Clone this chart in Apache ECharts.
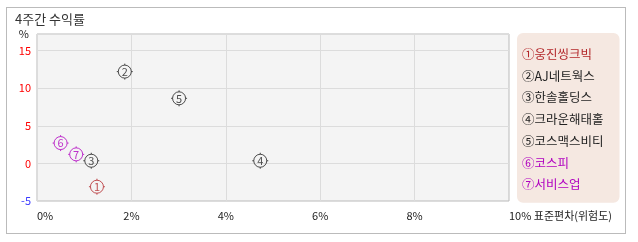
<!DOCTYPE html>
<html><head><meta charset="utf-8">
<script src="https://cdn.jsdelivr.net/npm/echarts@6/dist/echarts.min.js"></script>
<style>
html,body{margin:0;padding:0;background:#fff;}
#frame{position:absolute;left:6px;top:7px;width:620px;height:227px;border:1px solid #bbb;box-sizing:border-box;}
#c{position:absolute;left:0;top:0;width:638px;height:242px;}
</style></head>
<body><div id="frame"></div><div id="c"></div>
<script>
const marks = ['①','②','③','④','⑤','⑥','⑦'];
const names = ['웅진씽크빅','AJ네트웍스','한솔홀딩스','크라운해태홀','코스맥스비티','코스피','서비스업'];
const risk = [1.27, 1.86, 1.15, 4.73, 3.01, 0.50, 0.83];
const ret = [-3.1, 12.2, 0.35, 0.35, 8.65, 2.7, 1.2];
const xTicks = [0, 2, 4, 6, 8, 10];
const yTicks = [-5, 0, 5, 10, 15];
const xName = '표준편차(위험도)';

const colors = ['#b3272a','#222222','#222222','#222222','#222222','#b000c0','#b000c0'];
const FONT = '"Noto Sans CJK KR", sans-serif';
const markerPath = 'path://M8,0L8,1.5M8,14.5L8,16M0,8L1.5,8M14.5,8L16,8M1.5,8A6.5,6.5,0,1,1,14.5,8A6.5,6.5,0,1,1,1.5,8Z';

const series = names.map((n, i) => ({
  type: 'scatter',
  name: marks[i] + n,
  data: [[risk[i], ret[i]]],
  symbol: markerPath,
  symbolSize: 16,
  itemStyle: { color: 'transparent', borderColor: colors[i], borderWidth: 1 },
  label: { show: true, position: 'inside', formatter: String(i + 1), color: colors[i], fontSize: 11, fontFamily: FONT },
  emphasis: { disabled: true }
}));

const chart = echarts.init(document.getElementById('c'), null, { renderer: 'canvas' });
chart.setOption({
  animation: false,
  backgroundColor: 'transparent',
  title: { text: '4주간 수익률', left: 15, top: 13, padding: 0,
    textStyle: { fontSize: 13, fontWeight: 'normal', color: '#333', fontFamily: FONT } },
  grid: { left: 37, right: 129, top: 34, bottom: 41, show: true, backgroundColor: '#f4f4f4', borderColor: '#bbb', borderWidth: 1 },
  xAxis: {
    type: 'value', min: xTicks[0], max: xTicks[xTicks.length - 1], interval: 2,
    axisLine: { show: false }, axisTick: { show: false },
    axisLabel: {
      formatter: v => (v === xTicks[xTicks.length - 1] ? v + '% ' + xName : v + '%'),
      fontSize: 11, color: '#222', fontFamily: FONT, margin: 9,
      alignMinLabel: 'left', alignMaxLabel: 'left', hideOverlap: false
    },
    splitLine: { lineStyle: { color: '#dcdcdc' } }
  },
  yAxis: {
    type: 'value', min: yTicks[0], max: 17.2, interval: 5,
    name: '%', nameLocation: 'end', nameGap: 0,
    nameTextStyle: { fontSize: 11, color: '#222', fontFamily: FONT, align: 'right', verticalAlign: 'middle', padding: [4, 8, 0, 0] },
    axisLine: { show: false }, axisTick: { show: false },
    axisLabel: { showMaxLabel: false, fontSize: 11, fontFamily: FONT, margin: 6,
      formatter: v => (yTicks.includes(v) ? String(v) : ''),
      color: v => (Number(v) < 0 ? '#3b3bff' : '#ff0000') },
    splitLine: { lineStyle: { color: '#dcdcdc' } }
  },
  legend: {
    orient: 'vertical', left: 517, top: 33,
    padding: [14, 16, 12, 0],
    backgroundColor: '#f5e8e1', borderRadius: 6,
    icon: 'none', itemWidth: 0, itemHeight: 14, itemGap: 8.5,
    selectedMode: false,
    data: series.map((s, i) => ({ name: s.name, textStyle: { color: colors[i] } })),
    textStyle: { fontSize: 12.5, fontFamily: FONT, padding: 0 }
  },
  series: series
});
</script></body></html>
